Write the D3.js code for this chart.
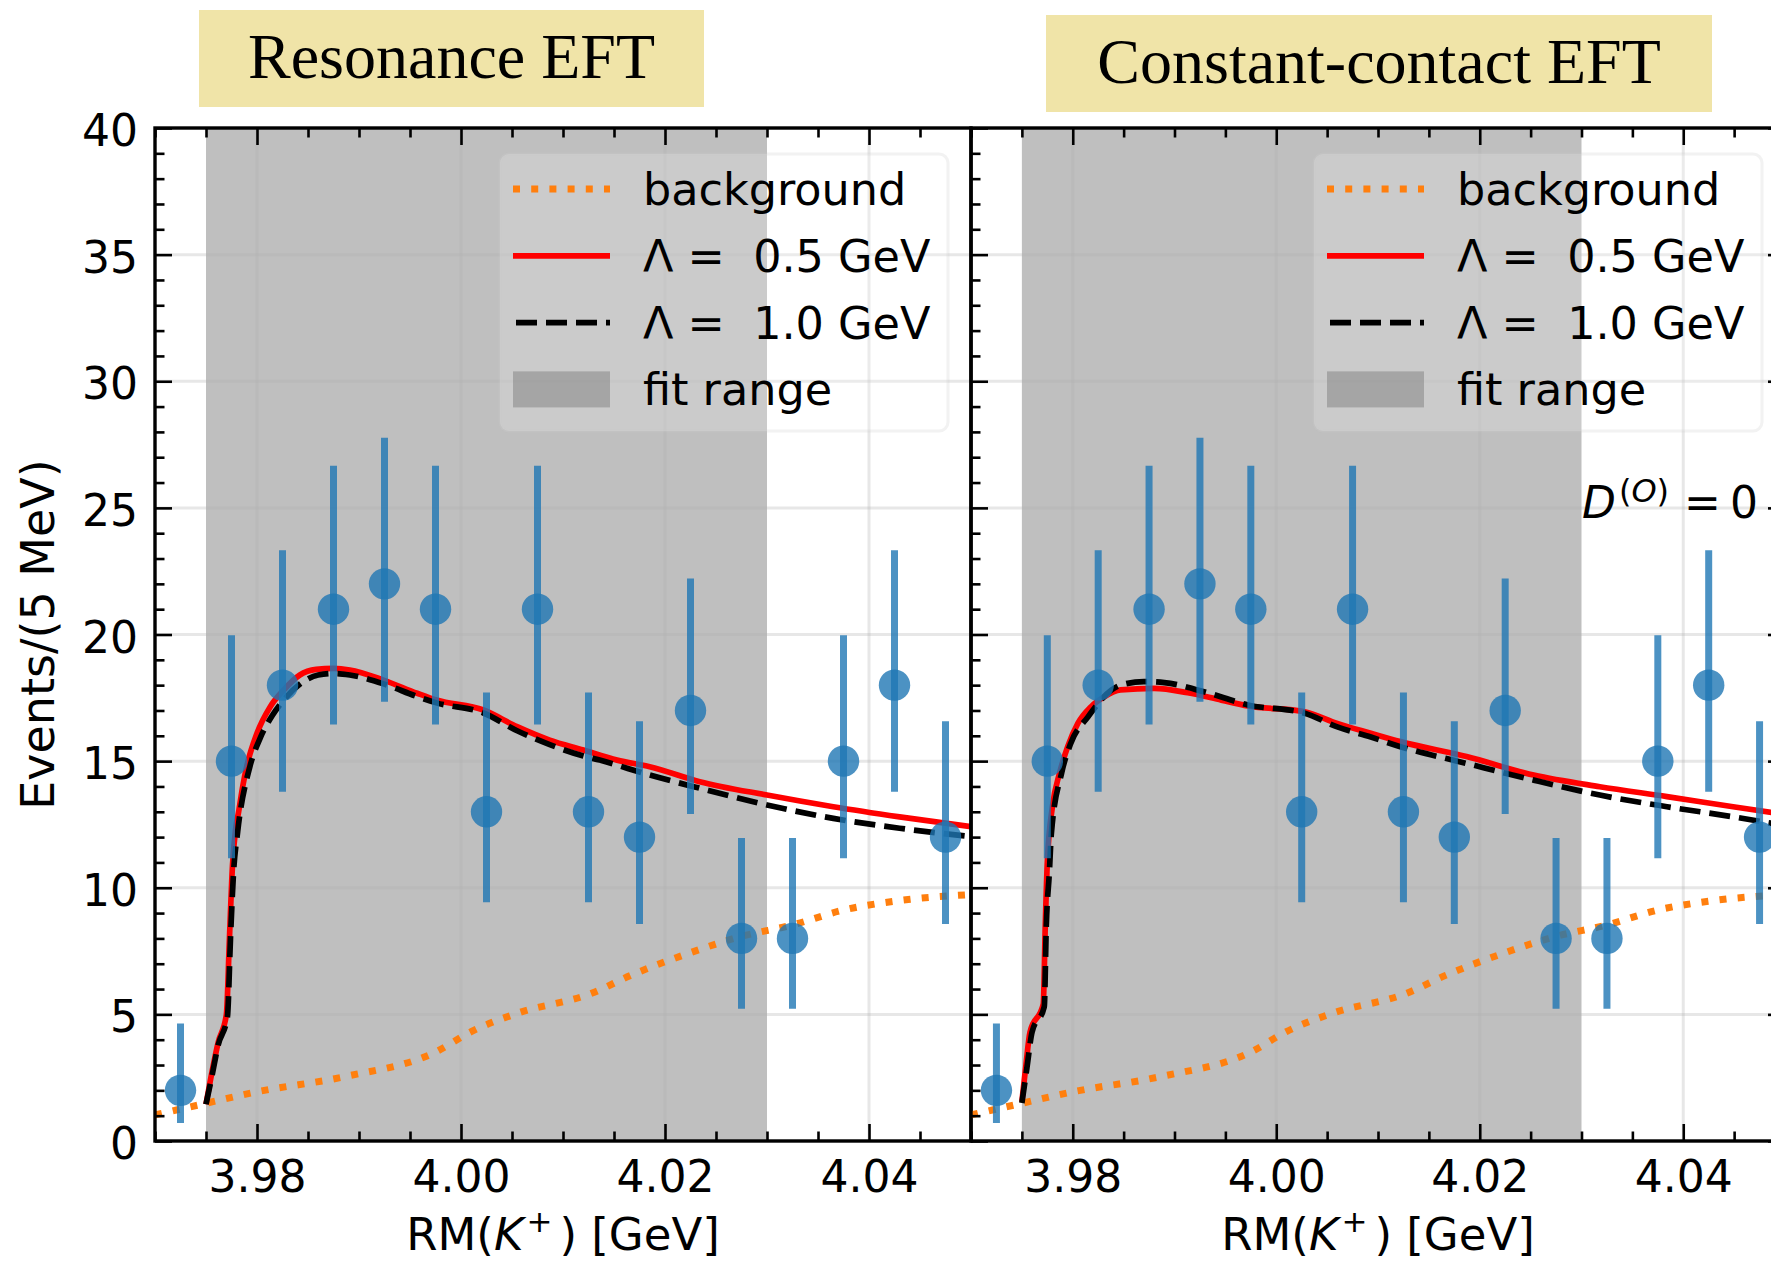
<!DOCTYPE html>
<html>
<head>
<meta charset="utf-8">
<script src="https://cdn.jsdelivr.net/npm/d3@7"></script>
<style>
body { margin: 0; background: #fff; }
svg text { font-family: "DejaVu Sans", sans-serif; }
</style>
</head>
<body>
<svg id="chart" width="1771" height="1262"></svg>
<script>
// measured events per 5 MeV bin
const binCenters = [3.9725, 3.9775, 3.9825, 3.9875, 3.9925, 3.9975, 4.0025, 4.0075,
                    4.0125, 4.0175, 4.0225, 4.0275, 4.0325, 4.0375, 4.0425, 4.0475];
const counts  = [2, 15, 18, 21, 22, 21, 13, 21, 13, 12, 17, 8, 8, 15, 18, 12];
const errLow  = [0.71, 11.16, 13.79, 16.45, 17.34, 16.45, 9.43, 16.45, 9.43, 8.57, 12.91, 5.22, 5.22, 11.16, 13.79, 8.57];
const errHigh = [4.64, 19.97, 23.33, 26.66, 27.77, 26.66, 17.71, 26.66, 17.71, 16.57, 22.21, 11.96, 11.96, 19.97, 23.33, 16.57];

// background curve (same in both panels)
const bkgMass   = [3.9700, 3.9750, 3.9801, 3.9886, 3.9976, 4.0010, 4.0055, 4.0128, 4.0167, 4.0223, 4.0274, 4.0325, 4.0375, 4.0431, 4.0500];
const bkgEvents = [1.03, 1.49, 1.95, 2.54, 3.53, 4.32, 5.04, 5.83, 6.55, 7.41, 8.07, 8.53, 9.12, 9.50, 9.73];

// Resonance EFT, Lambda = 0.5 GeV
const resMass05   = [3.9750, 3.9756, 3.9762, 3.9770, 3.9773, 3.9776, 3.9779, 3.9782, 3.9786, 3.9790, 3.9800, 3.9813, 3.9826, 3.9842, 3.9858, 3.9875, 3.9891, 3.9924, 3.9957, 3.9976, 4.0022, 4.0055, 4.0087, 4.0120, 4.0153, 4.0185, 4.0234, 4.0300, 4.0365, 4.0430, 4.0500];
const resEvents05 = [1.45, 2.75, 3.90, 5.00, 8.00, 10.9, 12.3, 13.0, 14.0, 14.8, 16.1, 17.15, 17.8, 18.4, 18.62, 18.66, 18.6, 18.2, 17.68, 17.41, 17.02, 16.36, 15.83, 15.44, 15.04, 14.78, 14.19, 13.66, 13.2, 12.8, 12.41];
// Resonance EFT, Lambda = 1.0 GeV
const resMass10   = [3.9750, 3.9756, 3.9762, 3.9771, 3.9774, 3.9777, 3.9781, 3.9793, 3.9803, 3.9815, 3.9828, 3.9844, 3.9860, 3.9876, 3.9891, 3.9924, 3.9957, 3.9976, 4.0022, 4.0055, 4.0087, 4.0120, 4.0136, 4.0185, 4.0234, 4.0300, 4.0365, 4.0430, 4.0500];
const resEvents10 = [1.45, 2.6, 3.8, 4.9, 8.0, 10.6, 12.2, 14.78, 15.9, 16.8, 17.5, 18.1, 18.4, 18.46, 18.4, 18.05, 17.55, 17.3, 16.9, 16.2, 15.65, 15.2, 15.04, 14.45, 13.93, 13.27, 12.74, 12.35, 12.02];

// Constant-contact EFT, Lambda = 0.5 GeV
const ccMass05   = [3.9750, 3.9754, 3.9758, 3.9771, 3.9773, 3.9775, 3.9780, 3.9787, 3.9795, 3.9805, 3.9818, 3.9831, 3.9847, 3.9880, 3.9913, 3.9946, 3.9972, 4.0028, 4.0060, 4.0093, 4.0122, 4.0187, 4.0253, 4.0318, 4.0384, 4.0449, 4.0500];
const ccEvents05 = [1.55, 3.0, 4.3, 5.4, 8.5, 11.0, 13.2, 14.52, 15.57, 16.49, 17.15, 17.54, 17.81, 17.87, 17.7, 17.41, 17.18, 16.95, 16.49, 16.1, 15.77, 15.18, 14.45, 13.99, 13.6, 13.2, 12.9];
// Constant-contact EFT, Lambda = 1.0 GeV
const ccMass10   = [3.9750, 3.9755, 3.9760, 3.9772, 3.9774, 3.9777, 3.9779, 3.9789, 3.9798, 3.9815, 3.9838, 3.9847, 3.9870, 3.9890, 3.9929, 3.9972, 4.0028, 4.0060, 4.0093, 4.0122, 4.0187, 4.0253, 4.0318, 4.0384, 4.0449, 4.0500];
const ccEvents10 = [1.5, 2.9, 4.3, 5.3, 8.5, 10.6, 12.15, 14.52, 15.7, 16.75, 17.81, 18.0, 18.14, 18.1, 17.74, 17.22, 16.89, 16.35, 15.95, 15.57, 14.91, 14.25, 13.66, 13.2, 12.8, 12.45];

const fitRange = [3.975, 4.030];
const xDomain = [3.970, 4.050];
const xMajor = [3.98, 4.00, 4.02, 4.04];
const yMajor = d3.range(0, 41, 5);
const legendLabels = ["background", "\u039b =  0.5 GeV", "\u039b =  1.0 GeV", "fit range"];

const svg = d3.select("#chart");
const yTop = 128, yBottom = 1141;
const y = d3.scaleLinear().domain([0, 40]).range([yBottom, yTop]);

const xMinor = d3.range(0, 17).map(i => +(3.97 + i * 0.005).toFixed(3)).filter(v => !xMajor.includes(v));
const yMinor = d3.range(0, 41).filter(v => v % 5 !== 0);

const blue = "#1f77b4", orange = "#ff7f0e";

const panels = [
    { left: 155, right: 971, title: "Resonance EFT", box: [199, 10, 505, 97], titleBase: 78,
      red: [resMass05, resEvents05], black: [resMass10, resEvents10], yLabels: true, rightTicks: false },
    { left: 971, right: 1785, title: "Constant-contact EFT", box: [1046, 15, 666, 97], titleBase: 83,
      red: [ccMass05, ccEvents05], black: [ccMass10, ccEvents10], yLabels: false, rightTicks: true }
];

function styleAxis(sel, size) {
    sel.select(".domain").remove();
    sel.attr("font-family", "DejaVu Sans").attr("font-size", size);
    sel.selectAll(".tick line").attr("stroke", "#000").attr("stroke-width", 2.6);
    sel.selectAll(".tick text").attr("fill", "#000");
}

panels.forEach((p, i) => {
    const x = d3.scaleLinear().domain(xDomain).range([p.left, p.right]);
    const g = svg.append("g");

    g.append("clipPath").attr("id", "clip" + i)
        .append("rect")
        .attr("x", p.left).attr("y", yTop)
        .attr("width", p.right - p.left).attr("height", yBottom - yTop);

    const plot = g.append("g").attr("clip-path", `url(#clip${i})`);

    // fit range
    plot.append("rect")
        .attr("x", x(fitRange[0])).attr("y", yTop)
        .attr("width", x(fitRange[1]) - x(fitRange[0]))
        .attr("height", yBottom - yTop)
        .attr("fill", "#808080").attr("opacity", 0.5);

    // grid
    plot.selectAll(".gx").data(xMajor).enter().append("line")
        .attr("x1", d => x(d)).attr("x2", d => x(d))
        .attr("y1", yTop).attr("y2", yBottom)
        .attr("stroke", "#b0b0b0").attr("stroke-opacity", 0.3).attr("stroke-width", 3);
    plot.selectAll(".gy").data(yMajor).enter().append("line")
        .attr("x1", p.left).attr("x2", p.right)
        .attr("y1", d => y(d)).attr("y2", d => y(d))
        .attr("stroke", "#b0b0b0").attr("stroke-opacity", 0.3).attr("stroke-width", 3);

    const line = d3.line().x(d => x(d[0])).y(d => y(d[1])).curve(d3.curveMonotoneX);

    plot.append("path")
        .attr("d", line(d3.zip(bkgMass, bkgEvents)))
        .attr("fill", "none").attr("stroke", orange)
        .attr("stroke-width", 7).attr("stroke-dasharray", "7 11.2");
    plot.append("path")
        .attr("d", line(d3.zip(p.red[0], p.red[1])))
        .attr("fill", "none").attr("stroke", "#ff0000").attr("stroke-width", 5.7);
    plot.append("path")
        .attr("d", line(d3.zip(p.black[0], p.black[1])))
        .attr("fill", "none").attr("stroke", "#000").attr("stroke-width", 5.7)
        .attr("stroke-dasharray", "21 9");

    // data points
    const pts = binCenters.map((m, k) => ({ m, n: counts[k], lo: errLow[k], hi: errHigh[k] }));
    plot.selectAll(".err").data(pts).enter().append("line")
        .attr("x1", d => x(d.m)).attr("x2", d => x(d.m))
        .attr("y1", d => y(d.lo)).attr("y2", d => y(d.hi))
        .attr("stroke", blue).attr("stroke-width", 7).attr("stroke-opacity", 0.8);
    plot.selectAll(".pt").data(pts).enter().append("circle")
        .attr("cx", d => x(d.m)).attr("cy", d => y(d.n)).attr("r", 15.7)
        .attr("fill", blue).attr("fill-opacity", 0.8);

    // legend
    const lgRight = p.right - 23, lgW = 448;
    const lg = g.append("g").attr("transform", `translate(${lgRight - lgW},154)`);
    lg.append("rect").attr("width", lgW).attr("height", 277).attr("rx", 9)
        .attr("fill", "#fff").attr("fill-opacity", 0.2)
        .attr("stroke", "#cccccc").attr("stroke-opacity", 0.25).attr("stroke-width", 3);
    const rowY = k => 35 + k * 66.8;
    lg.append("line").attr("x1", 13).attr("x2", 110).attr("y1", rowY(0)).attr("y2", rowY(0))
        .attr("stroke", orange).attr("stroke-width", 7).attr("stroke-dasharray", "7 11.2");
    lg.append("line").attr("x1", 13).attr("x2", 110).attr("y1", rowY(1)).attr("y2", rowY(1))
        .attr("stroke", "#ff0000").attr("stroke-width", 5.7);
    lg.append("line").attr("x1", 16).attr("x2", 110).attr("y1", rowY(2)).attr("y2", rowY(2))
        .attr("stroke", "#000").attr("stroke-width", 5.7).attr("stroke-dasharray", "21 9");
    lg.append("rect").attr("x", 13).attr("y", rowY(3) - 18).attr("width", 97).attr("height", 36)
        .attr("fill", "#808080").attr("opacity", 0.5);
    lg.selectAll(".lt").data(legendLabels).enter().append("text")
        .attr("x", 143).attr("y", (d, k) => rowY(k) + 16)
        .attr("font-size", 44.5).attr("fill", "#000")
        .style("white-space", "pre")
        .text(d => d);

    // axes
    const bottom = g.append("g").attr("transform", `translate(0,${yBottom})`)
        .call(d3.axisBottom(x).tickValues(xMajor).tickSizeInner(-17).tickSizeOuter(0)
            .tickPadding(20).tickFormat(d3.format(".2f")));
    styleAxis(bottom, 44);
    const bottomMinor = g.append("g").attr("transform", `translate(0,${yBottom})`)
        .call(d3.axisBottom(x).tickValues(xMinor).tickSizeInner(-9.5).tickSizeOuter(0).tickFormat(""));
    styleAxis(bottomMinor, 44);
    const top = g.append("g").attr("transform", `translate(0,${yTop})`)
        .call(d3.axisTop(x).tickValues(xMajor).tickSizeInner(-17).tickSizeOuter(0).tickFormat(""));
    styleAxis(top, 44);
    const topMinor = g.append("g").attr("transform", `translate(0,${yTop})`)
        .call(d3.axisTop(x).tickValues(xMinor).tickSizeInner(-9.5).tickSizeOuter(0).tickFormat(""));
    styleAxis(topMinor, 44);

    const left = g.append("g").attr("transform", `translate(${p.left},0)`)
        .call(d3.axisLeft(y).tickValues(yMajor).tickSizeInner(-17).tickSizeOuter(0)
            .tickPadding(17).tickFormat(p.yLabels ? d3.format("d") : ""));
    styleAxis(left, 44);
    left.selectAll(".tick text").attr("dy", "0.4em");
    const leftMinor = g.append("g").attr("transform", `translate(${p.left},0)`)
        .call(d3.axisLeft(y).tickValues(yMinor).tickSizeInner(-9.5).tickSizeOuter(0).tickFormat(""));
    styleAxis(leftMinor, 44);

    if (p.rightTicks) {
        const right = g.append("g").attr("transform", `translate(${p.right},0)`)
            .call(d3.axisRight(y).tickValues(yMajor).tickSizeInner(-17).tickSizeOuter(0).tickFormat(""));
        styleAxis(right, 44);
        const rightMinor = g.append("g").attr("transform", `translate(${p.right},0)`)
            .call(d3.axisRight(y).tickValues(yMinor).tickSizeInner(-9.5).tickSizeOuter(0).tickFormat(""));
        styleAxis(rightMinor, 44);
    }

    // spines
    g.append("rect")
        .attr("x", p.left).attr("y", yTop)
        .attr("width", p.right - p.left).attr("height", yBottom - yTop)
        .attr("fill", "none").attr("stroke", "#000").attr("stroke-width", 3.4);

    // x label
    const xl = g.append("text")
        .attr("x", (p.left + p.right) / 2).attr("y", 1250)
        .attr("text-anchor", "middle").attr("font-size", 45).attr("fill", "#000");
    xl.append("tspan").text("RM(");
    xl.append("tspan").attr("font-style", "italic").text("K");
    xl.append("tspan").attr("font-size", 31).attr("dy", -18).attr("dx", 3).text("+");
    xl.append("tspan").attr("dy", 18).attr("dx", 7).text(")");
    xl.append("tspan").style("white-space", "pre").text(" [GeV]");

    // title box
    g.append("rect")
        .attr("x", p.box[0]).attr("y", p.box[1]).attr("width", p.box[2]).attr("height", p.box[3])
        .attr("fill", "#f0e4a8");
    g.append("text")
        .attr("x", p.box[0] + p.box[2] / 2).attr("y", p.titleBase)
        .attr("text-anchor", "middle")
        .style("font-family", "'Liberation Serif', serif")
        .attr("font-size", 64).attr("fill", "#000")
        .text(p.title);
});

// y label
svg.append("text")
    .attr("transform", `translate(54,${(yTop + yBottom) / 2}) rotate(-90)`)
    .attr("text-anchor", "middle").attr("font-size", 46).attr("fill", "#000")
    .text("Events/(5 MeV)");

// annotation in the right panel, cut by the edge
const note = svg.append("text").attr("x", 1582).attr("y", 518).attr("font-size", 44).attr("fill", "#000");
note.append("tspan").attr("font-style", "italic").text("D");
note.append("tspan").attr("font-size", 32).attr("dy", -16).attr("dx", 3).text("(");
note.append("tspan").attr("font-size", 32).attr("font-style", "italic").text("O");
note.append("tspan").attr("font-size", 32).text(")");
note.append("tspan").attr("dy", 16).attr("x", 1684).text("=");
note.append("tspan").attr("x", 1730).text("0");
</script>
</body>
</html>
